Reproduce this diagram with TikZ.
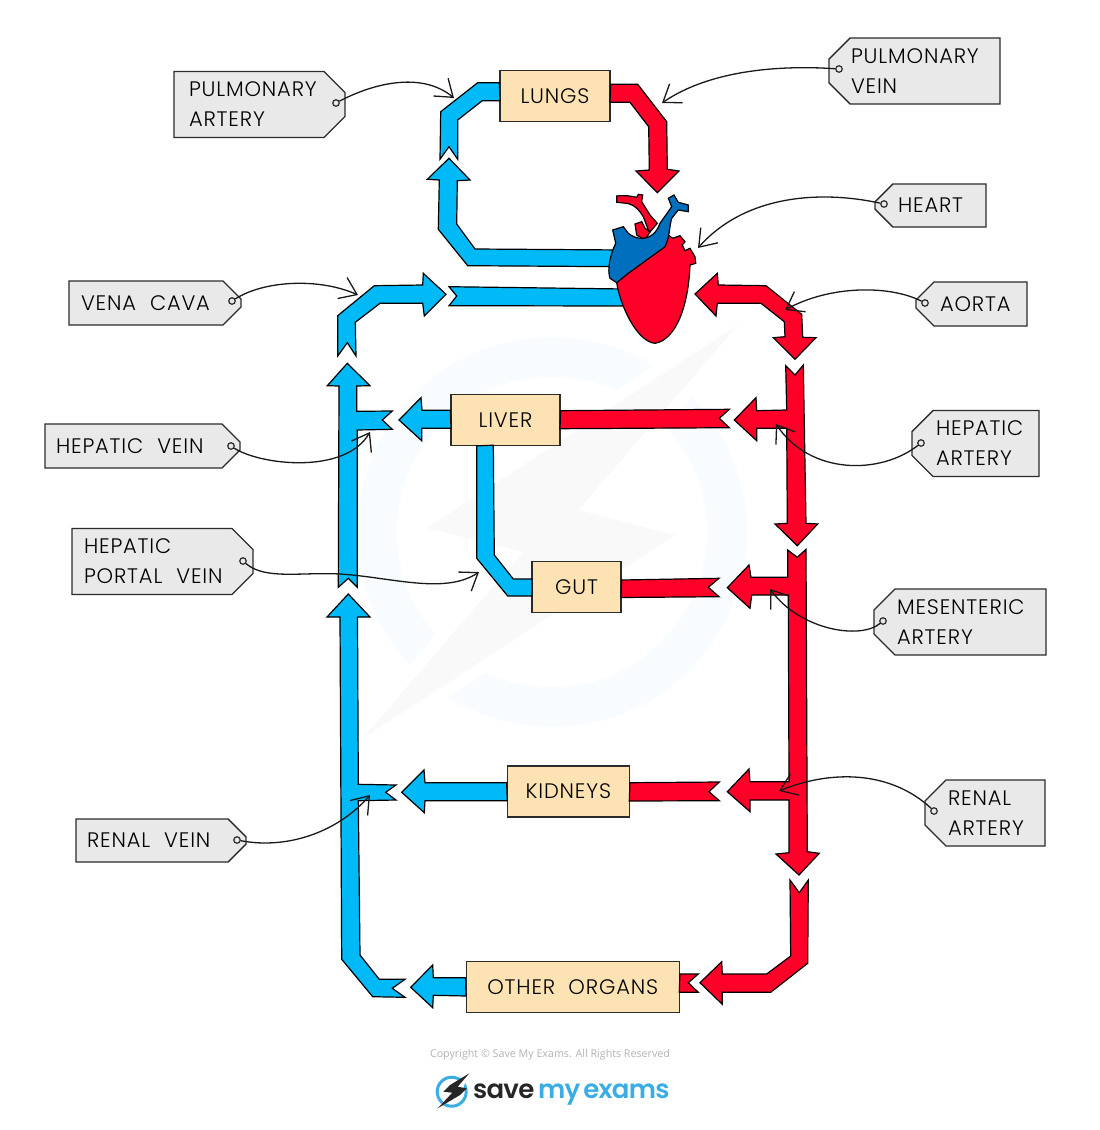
\documentclass[tikz,border=0pt]{standalone}
\usepackage{fontspec}
\usetikzlibrary{arrows.meta}
\usetikzlibrary{shapes.misc}
\setmainfont{Poppins Light}[LetterSpace=4]
\newfontfamily\copyfont{Open Sans}
\newfontfamily\logofont{Poppins SemiBold}[LetterSpace=-3]
\definecolor{veinblue}{HTML}{00B9F7}
\definecolor{arteryred}{HTML}{FF0028}
\definecolor{heartblue}{HTML}{0070BE}
\definecolor{organfill}{HTML}{FDE3B3}
\definecolor{tagfill}{HTML}{E9E9E9}
\definecolor{linegray}{HTML}{2B2B2B}
\definecolor{logoblue}{HTML}{3AAEE4}
\definecolor{markblue}{HTML}{F8FCFE}
\definecolor{markgray}{HTML}{F9F9F9}

\begin{document}
\begin{tikzpicture}[x=1pt,y=-1pt,
    organ/.style={
% The shape:
rectangle,
% The size:
minimum width=#1, minimum height=51pt,
% The border:
line width=1.3pt, draw=linegray, fill=organfill,
font=\fontsize{21}{25}\selectfont,
},
    tagr/.style 2 args={
% The shape:
chamfered rectangle, chamfered rectangle corners={north east,south east},
chamfered rectangle xsep=10.5pt, chamfered rectangle ysep=10.5pt,
% The size:
minimum width=#1, text width=#2, inner xsep=0pt, inner ysep=0pt, align=left,
% The border:
line width=1.3pt, draw=linegray, fill=tagfill,
font=\fontsize{21}{30}\selectfont,
},
    tagl/.style 2 args={
% The shape:
chamfered rectangle, chamfered rectangle corners={north west,south west},
chamfered rectangle xsep=10.5pt, chamfered rectangle ysep=10.5pt,
% The size:
minimum width=#1, text width=#2, inner xsep=0pt, inner ysep=0pt, align=left,
% The border:
line width=1.3pt, draw=linegray, fill=tagfill,
font=\fontsize{21}{30}\selectfont,
},
    hole/.style={circle, draw=linegray, line width=1.2pt, fill=tagfill, inner sep=0pt, minimum size=6.5pt},
    pointer/.style={-{Straight Barb[length=16pt,width=23pt]}, line width=1.3pt, draw=black!90},
    vein/.style={fill=veinblue, draw=black, line width=1.2pt},
    artery/.style={fill=arteryred, draw=black, line width=1.2pt},
]
  \useasboundingbox (0,0) rectangle (1100,1130);

  % faint mark behind the diagram
  \fill[markblue,even odd rule] (552,532) circle (195pt) (552,532) circle (155pt);
  \draw[white,line width=24pt,line join=round] (738,325) -- (578,510) -- (675,535) -- (363,738) -- (523,552) -- (427,528) -- cycle;
  \fill[markgray] (738,325) -- (578,510) -- (675,535) -- (363,738) -- (523,552) -- (427,528) -- cycle;

  \node[organ=110pt]                    (lungs)   at (555,96.2)  {LUNGS};
  \node[organ=109pt]                    (liver)   at (505.5,419.7) {LIVER};
  \node[organ=89pt]                     (gut)     at (576.5,587) {GUT};
  \node[organ=122pt]                    (kidneys) at (568.3,791.4) {KIDNEYS};
  \node[organ=213pt]                    (organs)  at (572.7,986.8) {OTHER\ \ ORGANS};

  % left loop through the lungs
  \draw[vein] (lungs.west) ++(0,-13.5) -- (477.7,82.7) -- (440.7,111.7) -- (440,159.3) -- (449,146.7) -- (457.7,159.3) -- (457.7,120) -- (482.3,100.7) -- (500,100.7) -- cycle;
  \draw[vein] (449,158.3) -- (470,180) -- (457.3,180.7) -- (456.7,224) -- (475,249) -- (625,250) -- (625,266.7) -- (467.7,265.7) -- (438.3,229.3) -- (439.3,180) -- (427.3,179.3) -- cycle;
  \draw[artery] (lungs.east) ++(0,-12) -- (637.7,84.3) -- (666.7,121.7) -- (667.3,169.3) -- (679,171) -- (657.3,192.7) -- (636,171) -- (649.3,170) -- (648.7,126.7) -- (630,102.3) -- (610,102.3) -- cycle;

  % vena cava
  \draw[vein] (449,286.7) -- (625,289) -- (625,306) -- (449,305.7) -- (456.7,296) -- cycle;
  \draw[vein] (446,294.3) -- (423.3,273.3) -- (422.7,285) -- (374.3,285.7) -- (337.7,315.7) -- (337.7,356) -- (347.3,342.7) -- (356,356) -- (355.3,322.3) -- (380,303.3) -- (422.7,303.3) -- (424.3,316) -- cycle;
  \draw[vein] (347.3,363.3) -- (370,385.7) -- (356.7,386) -- (356.7,411.3) -- (392.3,411) -- (382.3,420) -- (392.3,429.3) -- (357.3,430) -- (357.3,587.3) -- (348.3,578.3) -- (338.3,587.3) -- (339,386) -- (327.3,385.7) -- cycle;
  \draw[vein] (348.3,594) -- (370,617) -- (357.5,617) -- (358.3,784.3) -- (396,785) -- (385.7,792.3) -- (396,800) -- (358.3,800.7) -- (360,955) -- (379.3,979.3) -- (405,979.3) -- (392.3,988.3) -- (405,997.3) -- (372.7,996.7) -- (341.7,959.3) -- (340,617) -- (327,617) -- cycle;

  % organ outflows
  \draw[vein] (liver.west) ++(0,-9.4) -- (422,410.3) -- (421,397.7) -- (399,420) -- (421.7,440.7) -- (421.7,428.3) -- (451,428.3) -- cycle;
  \draw[vein] (liver.south) ++(-28.8,0) -- (476.7,558.3) -- (507.7,596) -- (532,596) -- (532,579) -- (513.3,579) -- (494.3,555) -- (493.3,445.2) -- cycle;
  \draw[vein] (kidneys.west) ++(0,-8.7) -- (425,782.7) -- (424,770) -- (401.7,792.3) -- (424.3,812.7) -- (425,800.7) -- (507.3,800.7) -- cycle;
  \draw[vein] (organs.west) ++(0,-9.1) -- (433.3,977.7) -- (432.7,965) -- (410.7,987.3) -- (432.7,1007.7) -- (433.3,995.3) -- (466,996) -- cycle;

  % right side
  \draw[artery] (695,294) -- (717.3,273.3) -- (718.3,285) -- (766,285.7) -- (801.7,314.3) -- (802.7,337.3) -- (816,337.7) -- (795,359.3) -- (773.3,337.7) -- (785,336.7) -- (784.3,321.7) -- (761,303.3) -- (717.3,303.3) -- (716,316) -- cycle;
  \draw[artery] (785.7,365.7) -- (795,375) -- (803.3,365) -- (806,523.3) -- (817.7,524) -- (797.3,545.7) -- (775,524) -- (787.3,523.3) -- (786.7,428.3) -- (756.7,428.3) -- (756.7,440.7) -- (734.3,420) -- (756,397.7) -- (756.7,410.7) -- (786.7,410) -- cycle;
  \draw[artery] (787.7,550) -- (797.3,557.3) -- (806,549.3) -- (807.3,851.7) -- (819.3,853.3) -- (799,875) -- (776,854) -- (789,852.7) -- (789,800) -- (750,800) -- (750,811.7) -- (727.3,791.7) -- (749,769) -- (750,781.7) -- (789,781.7) -- (788.3,595) -- (751.7,595) -- (750,608.3) -- (727.3,587.7) -- (749,565) -- (751,577.3) -- (787.7,577.3) -- cycle;
  \draw[artery] (790,880) -- (799.3,892.7) -- (808.3,880) -- (807.7,963.3) -- (770.7,992.3) -- (722.3,992.3) -- (722.3,1004.3) -- (700,982.7) -- (721.7,961.7) -- (722.3,974) -- (766.7,974) -- (790.7,956) -- cycle;

  % organ inflows
  \draw[artery] (liver.east) ++(0,-9) -- (729.3,409.3) -- (719.3,418.3) -- (729.3,427.7) -- (560,428.7) -- cycle;
  \draw[artery] (gut.east) ++(0,-7) -- (719,578.3) -- (708.3,587.3) -- (719,596.7) -- (621,597.5) -- cycle;
  \draw[artery] (kidneys.east) ++(0,-8.7) -- (719.3,782) -- (709,791.7) -- (719.3,800.7) -- (629.3,801) -- cycle;
  \draw[artery] (organs.east) ++(0,-12.8) -- (698.3,974) -- (688.3,982.7) -- (698.3,992.3) -- (679.3,992.3) -- cycle;

  % the heart
  \draw[artery] (616.7,196) .. controls (625,195) and (630,196) .. (636.7,197.3) -- (638.3,194.3) -- (642.7,195) -- (641.7,201.7) -- (650,215) -- (657.3,223.3) -- (650,232) -- (648.3,230) -- (643.3,216.7) .. controls (640,211) and (635,205) .. (628,203.5) -- (616.7,202.3) -- cycle;
  \draw[artery] (635,224) -- (641.7,221.7) -- (645,228.3) -- (650,232) -- (645,240) -- (636.7,235) -- cycle;
  \draw[artery] (616.7,282.7) .. controls (620,305) and (636.7,341.7) .. (655,343.3)
     .. controls (675,340) and (688.3,308.3) .. (690,265) -- (695.7,263.3) -- (695,256.7) -- (690,248.3) -- (685,250.7) -- (682.3,245) -- (685,241.7) -- (680,235.7) -- (672.7,238.3) -- (668.3,235) -- (640,250) -- cycle;
  \draw[fill=heartblue,draw=black,line width=1.2pt] (612.7,230) -- (623.3,226.7) -- (628.3,233.3)
     .. controls (636,240) and (653,243) .. (660,223.3)
     -- (671.7,206.7) -- (668.3,198.3) -- (674,195) -- (678.3,202.3) -- (688.3,205) -- (688.3,211.7) -- (678.3,210) -- (671.7,218.3)
     .. controls (669,228) and (670,236) .. (665,246.7)
     -- (628.3,273.3) -- (616.7,282.7) -- (610,278.3) .. controls (607,270) and (610,255) .. (615.7,243.3) -- cycle;

  % labels, text set at its left margin
  \node[tagr={171pt}{141pt},minimum height=65pt] (artery-lungs)  at (259.5,104.5) {PULMONARY\\ARTERY};
  \node[tagl={171pt}{127pt},minimum height=64pt] (vein-lungs)    at (914.5,71)    {PULMONARY\\VEIN};
  \node[tagl={111pt}{65pt},minimum height=43pt]  (heart-tag)     at (930.5,205.5) {HEART};
  \node[tagr={172pt}{148pt},minimum height=44pt] (vena-cava)     at (155,303)     {VENA\ \ CAVA};
  \node[tagl={111pt}{63pt},minimum height=44pt]  (aorta)         at (971.5,304)   {AORTA};
  \node[tagr={195pt}{173pt},minimum height=44pt] (vein-liver)    at (142.5,446)   {HEPATIC\ \ VEIN};
  \node[tagl={127pt}{79pt},minimum height=65pt]  (artery-liver)  at (975.5,443.5) {HEPATIC\\ARTERY};
  \node[tagr={181pt}{157pt},minimum height=65pt] (portal-vein)   at (162.5,561.5) {HEPATIC\\PORTAL\ \ VEIN};
  \node[tagl={172pt}{126pt},minimum height=66pt] (mesenteric)    at (960,622)     {MESENTERIC\\ARTERY};
  \node[tagr={170pt}{148pt},minimum height=43pt] (vein-kidney)   at (161,840.5)   {RENAL\ \ VEIN};
  \node[tagl={120pt}{74pt},minimum height=66pt]  (artery-kidney) at (985,813)     {RENAL\\ARTERY};

  \node[hole] (h1)  at (336,103) {};
  \node[hole] (h2)  at (839,69)  {};
  \node[hole] (h3)  at (884,204) {};
  \node[hole] (h4)  at (232,301) {};
  \node[hole] (h5)  at (925,303) {};
  \node[hole] (h6)  at (231,446) {};
  \node[hole] (h7)  at (921,443) {};
  \node[hole] (h8)  at (243,561) {};
  \node[hole] (h9)  at (883,621) {};
  \node[hole] (h10) at (237,840) {};
  \node[hole] (h11) at (934,811) {};

  \coordinate (t1)  at (454,98);
  \coordinate (t2)  at (662,103);
  \coordinate (t3)  at (698,248);
  \coordinate (t4)  at (358,295);
  \coordinate (t5)  at (785,310);
  \coordinate (t6)  at (370,432);
  \coordinate (t7)  at (776,424);
  \coordinate (t8)  at (479,572);
  \coordinate (t9)  at (770,589);
  \coordinate (t10) at (370,795);
  \coordinate (t11) at (779,791);

  \draw[pointer] (h1)  .. controls (370,85) and (420,70) .. (t1);
  \draw[pointer] (h2)  .. controls (780,65) and (710,70) .. (t2);
  \draw[pointer] (h3)  .. controls (820,190) and (745,195) .. (t3);
  \draw[pointer] (h4)  .. controls (265,280) and (320,278) .. (t4);
  \draw[pointer] (h5)  .. controls (890,285) and (830,285) .. (t5);
  \draw[pointer] (h6)  .. controls (260,465) and (345,475) .. (t6);
  \draw[pointer] (h7)  .. controls (880,475) and (810,475) .. (t7);
  \draw[pointer] (h8)  .. controls (265,580) and (300,572) .. (340,574) .. controls (390,577) and (445,595) .. (t8);
  \draw[pointer] (h9)  .. controls (860,640) and (800,630) .. (t9);
  \draw[pointer] (h10) .. controls (290,850) and (340,830) .. (t10);
  \draw[pointer] (h11) .. controls (890,770) and (830,770) .. (t11);

  % footer
  \node[text=black!30,font=\copyfont\fontsize{10.7}{13}\selectfont] (copyright) at (550,1054.5) {Copyright © Save My Exams. All Rights Reserved};
  \draw[logoblue,line width=3pt] (451.7,1091.7) circle (14.5pt);
  \fill[white] (469.3,1073.3) -- (437.7,1108.3) -- (460,1095) -- cycle;
  \fill[black!85] (469.3,1073.3) -- (450,1085) -- (443.3,1091.7) -- (452.3,1092.7) -- (437.7,1108.3) -- (460,1095) -- (466.7,1088.3) -- (457.7,1086.7) -- cycle;
  \node[anchor=base west,inner sep=0pt,font=\logofont\fontsize{26}{30}\selectfont,text=black!85] (logo-a) at (473,1098) {save};
  \node[anchor=base west,inner sep=0pt,font=\logofont\fontsize{26}{30}\selectfont,text=logoblue] (logo-b) at (538,1098) {\spaceskip=3pt my exams};
\end{tikzpicture}
\end{document}
